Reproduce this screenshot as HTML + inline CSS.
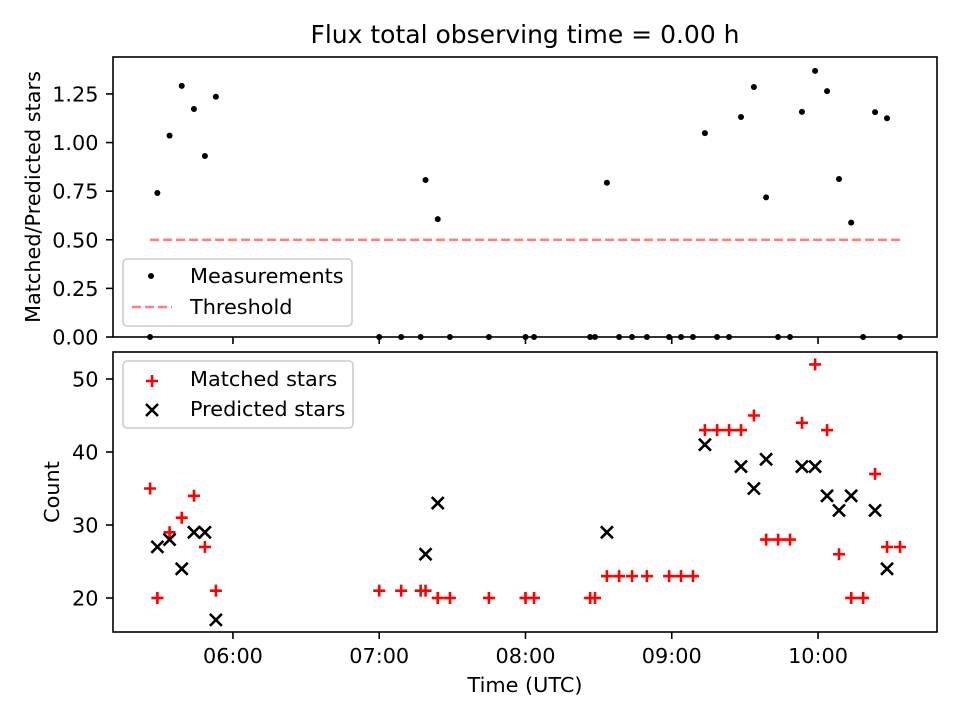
<!DOCTYPE html>
<html><head><meta charset="utf-8"><style>
body{margin:0;background:#fff}
svg text{font-family:"DejaVu Sans","Liberation Sans",sans-serif;fill:#000}
</style></head><body>
<svg id="c" width="960" height="720" xmlns="http://www.w3.org/2000/svg"></svg>
<script>
const times=[326,329,334,339,344,348.5,353,420,429,437,439,444,449,465,480,483.5,506.5,508.5,513.4,518.4,523.7,529.8,538.9,543.8,548.7,553.6,558.6,563.5,568.4,573.7,578.7,583.6,588.5,593.4,598.8,603.7,608.6,613.6,618.5,623.4,628.3,633.6];
const matched=[35,20,29,31,34,27,21,21,21,21,21,20,20,20,20,20,20,20,23,23,23,23,23,23,23,43,43,43,43,45,28,28,28,44,52,43,26,20,20,37,27,27];
const predicted=[null,27,28,24,29,29,17,null,null,null,26,33,null,null,null,null,null,null,29,null,null,null,null,null,null,41,null,null,38,35,39,null,null,38,38,34,32,34,null,32,24,null];
const xTicks=[360,420,480,540,600];
const xTickLabels=["06:00","07:00","08:00","09:00","10:00"];
const topTicks=[0,0.25,0.5,0.75,1.0,1.25];
const botTicks=[20,30,40,50];
const threshold=0.5;

const NS="http://www.w3.org/2000/svg";
const svg=document.getElementById('c');
const L=113,R=937,T1=57,B1=337,T2=352,B2=632;
const FS=20.8;
const X=v=>L+(v-310.8)/(648.8-310.8)*(R-L);
const Y1=v=>B1-(v-0)/(1.44-0)*(B1-T1);
const Y2=v=>B2-(v-15.34)/(53.7-15.34)*(B2-T2);
function el(t,a,p){const e=document.createElementNS(NS,t);for(const k in a)e.setAttribute(k,a[k]);(p||svg).appendChild(e);return e;}
function txt(s,a){const e=el('text',a);e.textContent=s;return e;}

const title=txt("Flux total observing time = 0.00 h",{x:525,y:43,'text-anchor':'middle','font-size':25});



const g1=el('g',{});


topTicks.forEach(v=>{el('line',{x1:L-7,x2:L,y1:Y1(v),y2:Y1(v),stroke:'#000','stroke-width':1.6},g1);
 const t=txt(v.toFixed(2),{x:L-14.5,y:Y1(v)+7.5,'text-anchor':'end','font-size':FS});
 
 });
xTicks.forEach(v=>el('line',{x1:X(v),x2:X(v),y1:B1,y2:B1+7,stroke:'#000','stroke-width':1.6},g1));
const thr=el('line',{x1:X(times[0]),x2:X(times[times.length-1]),y1:Y1(threshold),y2:Y1(threshold),stroke:'#ff8080','stroke-width':2.5,'stroke-dasharray':'9,4'},g1);


times.forEach((t,i)=>{const r=predicted[i]?matched[i]/predicted[i]:0;
 const c=el('circle',{cx:X(t),cy:Y1(r),r:3,fill:'#000'},g1);
 
 });
el('rect',{x:L,y:T1,width:R-L,height:B1-T1,fill:'none',stroke:'#000','stroke-width':1.6},g1);
const yl1=txt("Matched/Predicted stars",{x:0,y:0,'text-anchor':'middle','font-size':FS,transform:`translate(40,${(T1+B1)/2}) rotate(-90)`});


const lg1=el('g',{});


el('rect',{x:123,y:259,width:229,height:67,rx:4,fill:'#fff','fill-opacity':0.8,stroke:'#ccc','stroke-width':1.6},lg1);
el('circle',{cx:151,cy:276,r:3,fill:'#000'},lg1);
txt("Measurements",{x:190,y:283,'font-size':FS});
el('line',{x1:132,x2:172,y1:307,y2:307,stroke:'#ff8080','stroke-width':2.5,'stroke-dasharray':'9,4'},lg1);
txt("Threshold",{x:190,y:314,'font-size':FS});

const g2=el('g',{});


botTicks.forEach(v=>{el('line',{x1:L-7,x2:L,y1:Y2(v),y2:Y2(v),stroke:'#000','stroke-width':1.6},g2);
 const t=txt(String(v),{x:L-14.5,y:Y2(v)+7.5,'text-anchor':'end','font-size':FS});
 
 });
xTicks.forEach((v,i)=>{el('line',{x1:X(v),x2:X(v),y1:B2,y2:B2+7,stroke:'#000','stroke-width':1.6},g2);
 const t=txt(xTickLabels[i],{x:X(v),y:663,'text-anchor':'middle','font-size':FS});
 
 });
function plus(cx,cy,p){el('path',{d:`M${cx-6} ${cy}H${cx+6}M${cx} ${cy-6}V${cy+6}`,stroke:'#f00','stroke-width':2.6},p);}
function cross(cx,cy,p){el('path',{d:`M${cx-6} ${cy-6}L${cx+6} ${cy+6}M${cx-6} ${cy+6}L${cx+6} ${cy-6}`,stroke:'#000','stroke-width':2.6},p);}
times.forEach((t,i)=>{const g=el('g',{},g2);
 
 
 plus(X(t),Y2(matched[i]),g);});
times.forEach((t,i)=>{if(predicted[i]==null)return;const g=el('g',{},g2);
 
 
 cross(X(t),Y2(predicted[i]),g);});
el('rect',{x:L,y:T2,width:R-L,height:B2-T2,fill:'none',stroke:'#000','stroke-width':1.6},g2);
const yl2=txt("Count",{x:0,y:0,'text-anchor':'middle','font-size':FS,transform:`translate(59,${(T2+B2)/2}) rotate(-90)`});


const xl=txt("Time (UTC)",{x:525,y:692,'text-anchor':'middle','font-size':FS});


const lg2=el('g',{});


el('rect',{x:123,y:361,width:230,height:67,rx:4,fill:'#fff','fill-opacity':0.8,stroke:'#ccc','stroke-width':1.6},lg2);
plus(152,381,lg2);
txt("Matched stars",{x:190,y:386,'font-size':FS});
cross(152,410,lg2);
txt("Predicted stars",{x:190,y:416,'font-size':FS});
</script>
</body></html>
